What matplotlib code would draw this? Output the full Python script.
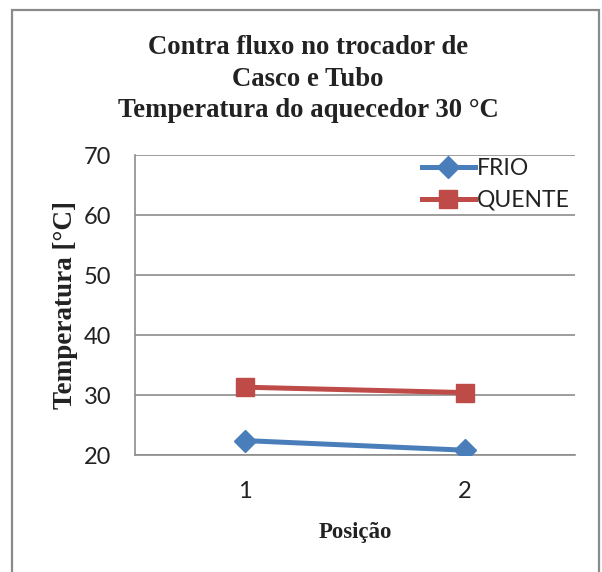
import matplotlib
matplotlib.use("Agg")
import matplotlib.pyplot as plt
from matplotlib.patches import Rectangle

# Data
positions = ["1", "2"]
frio = [22.4, 20.8]
quente = [31.3, 30.4]
y_ticks = [20, 30, 40, 50, 60, 70]

W, H = 602, 572
fig = plt.figure(figsize=(W / 100, H / 100), dpi=100)
fig.patch.set_facecolor("white")

# Outer chart frame
fig.add_artist(Rectangle((12 / W, -0.05), (599 - 12) / W, 1.05 - 10 / H,
                         transform=fig.transFigure, fill=False,
                         edgecolor="#8a8a8a", linewidth=1.6))

ax = fig.add_axes([135 / W, 1 - 455 / H, (575 - 135) / W, (455 - 155) / H])

x = range(1, len(positions) + 1)
ax.plot(x, frio, color="#4A7EBB", linewidth=3.6, marker="D", markersize=11,
        markerfacecolor="#4A7EBB", markeredgecolor="#4A7EBB", label="FRIO",
        zorder=3)
ax.plot(x, quente, color="#BE4B48", linewidth=3.6, marker="s", markersize=13,
        markerfacecolor="#BE4B48", markeredgecolor="#BE4B48", label="QUENTE",
        zorder=3)

ax.set_xlim(0.5, 2.5)
ax.set_ylim(20, 70)
ax.set_yticks(y_ticks)
ax.set_xticks(list(x))
ax.set_xticklabels(positions)

ax.grid(axis="y", color="#8c8c8c", linewidth=1.2)
ax.set_axisbelow(True)
for s in ["top", "right"]:
    ax.spines[s].set_visible(False)
for s in ["left", "bottom"]:
    ax.spines[s].set_color("#8c8c8c")
    ax.spines[s].set_linewidth(1.2)

ax.tick_params(axis="both", length=0, labelsize=17, colors="#222222")
ax.tick_params(axis="y", pad=17)
ax.tick_params(axis="x", pad=19)
for lab in ax.get_xticklabels() + ax.get_yticklabels():
    lab.set_fontfamily("Lato")

ax.set_xlabel("Posição", fontfamily="Liberation Serif", fontweight="bold",
              fontsize=16.5, color="#222222", labelpad=14)
ax.set_ylabel("Temperatura [°C]", fontfamily="Liberation Serif",
              fontweight="bold", fontsize=19.5, color="#222222", labelpad=4)

leg = ax.legend(loc="upper right", bbox_to_anchor=(1.025, 1.045), frameon=False,
                prop={"family": "Lato", "size": 16.5}, handlelength=2.3,
                handletextpad=0.1, labelspacing=0.5, borderaxespad=0.3)
for t in leg.get_texts():
    t.set_color("#222222")

fig.text(308 / W, 1 - 79 / H,
         "Contra fluxo no trocador de\nCasco e Tubo\nTemperatura do aquecedor 30 °C",
         ha="center", va="center", fontfamily="Liberation Serif",
         fontweight="bold", fontsize=19.3, color="#222222", linespacing=1.36)

fig.savefig("out.png", dpi=100, facecolor="white")
